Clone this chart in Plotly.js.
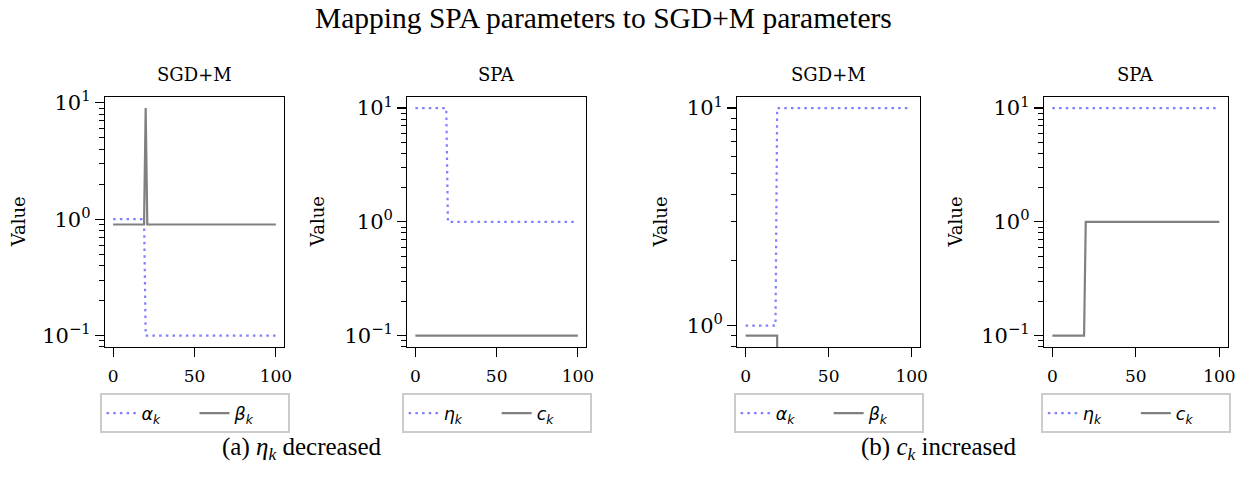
<!DOCTYPE html>
<html>
<head>
<meta charset="utf-8">
<script src="https://cdn.plot.ly/plotly-3.0.1.min.js"></script>
<style>html,body{margin:0;padding:0;background:#fff;}#chart{width:1244px;height:488px;}</style>
</head>
<body>
<div id="chart"></div>
<script>
// ---- data (vertices of the step lines) ----
// (a) eta_k decreased
const a_k_alpha = [0, 19, 20, 100];
const a_alpha   = [1, 1, 0.1, 0.1];
const a_k_beta  = [0, 19, 20, 21, 100];
const a_beta    = [0.9, 0.9, 9, 0.9, 0.9];
const a_k_eta   = [0, 19, 20, 100];
const a_eta     = [10, 10, 1, 1];
const a_k_c     = [0, 100];
const a_c       = [0.1, 0.1];
// (b) c_k increased
const b_k_alpha = [0, 18, 19, 100];
const b_alpha   = [1, 1, 10, 10];
const b_k_beta  = [0, 19, 20, 100];
const b_beta    = [0.9, 0.9, 0, 0];
const b_k_eta   = [0, 100];
const b_eta     = [10, 10];
const b_k_c     = [0, 19, 20, 100];
const b_c       = [0.1, 0.1, 1, 1];

const xTickVals = [0, 50, 100];
const yTickVals = [0.1, 1, 10];
const yTickText = ['10<sup>\u22121</sup>', '10<sup>0</sup>', '10<sup>1</sup>'];
const yMinorVals = [0.08, 0.09, 0.2, 0.3, 0.4, 0.5, 0.6, 0.7, 0.8, 0.9, 2, 3, 4, 5, 6, 7, 8, 9];

const panelTitles = ['SGD+M', 'SPA', 'SGD+M', 'SPA'];
const legendNames = [['<i>α<sub>k</sub></i>', '<i>β<sub>k</sub></i>'], ['<i>η<sub>k</sub></i>', '<i>c<sub>k</sub></i>'],
                     ['<i>α<sub>k</sub></i>', '<i>β<sub>k</sub></i>'], ['<i>η<sub>k</sub></i>', '<i>c<sub>k</sub></i>']];
const yRanges = [[-1.0977, 1.0519], [-1.1, 1.1], [-0.0981, 1.0523], [-1.1, 1.1]];

// ---- layout geometry (pixels) ----
const W = 1244, H = 488;
const px = v => v / W, py = v => 1 - v / H;
const xDom = [[105, 284], [407.3, 586], [737.3, 920], [1044, 1227.7]];
const yTop = 96.7, yBot = 347;
const valueX = [18.5, 318.3, 660.7, 955.7];

const BLUE = '#7f7fff', GREY = '#808080';
const clip = arr => arr.map(v => v > 0 ? v : 1e-10);

const series = [
  [[a_k_alpha, a_alpha], [a_k_beta, a_beta]],
  [[a_k_eta, a_eta], [a_k_c, a_c]],
  [[b_k_alpha, b_alpha], [b_k_beta, b_beta]],
  [[b_k_eta, b_eta], [b_k_c, b_c]]
];

const traces = [];
const layout = {
  width: W, height: H, margin: {l: 0, r: 0, t: 0, b: 0},
  paper_bgcolor: '#fff', plot_bgcolor: '#fff', showlegend: true,
  font: {family: 'DejaVu Serif', color: '#000'},
  annotations: [],
};

series.forEach((pair, i) => {
  const n = i + 1, sfx = n === 1 ? '' : String(n);
  const legKey = 'legend' + sfx;
  pair.forEach((s, j) => {
    traces.push({
      x: s[0], y: clip(s[1]), type: 'scatter', mode: 'lines',
      name: legendNames[i][j],
      xaxis: 'x' + sfx, yaxis: 'y' + sfx, legend: legKey,
      line: j === 0 ? {color: BLUE, width: 2.2, dash: '2.5px,4.2px'} : {color: GREY, width: 2.2},
      hoverinfo: 'skip'
    });
  });
  layout['xaxis' + sfx] = {
    domain: [px(xDom[i][0]), px(xDom[i][1])], anchor: 'y' + sfx,
    range: [-5, 105], tickvals: xTickVals, ticks: 'outside', ticklen: 9, tickwidth: 1.2,
    tickcolor: '#000', showline: true, mirror: true, linecolor: '#000', linewidth: 1.2,
    showgrid: false, zeroline: false, tickfont: {family: 'DejaVu Serif', size: 17, color: '#000'},
    ticklabelstandoff: 4, fixedrange: true
  };
  layout['yaxis' + sfx] = {
    domain: [py(yBot), py(yTop)], anchor: 'x' + sfx, type: 'log',
    range: yRanges[i], tickvals: yTickVals, ticktext: yTickText,
    ticks: 'outside', ticklen: 9, tickwidth: 1.2, tickcolor: '#000',
    minor: {tickvals: yMinorVals, ticks: 'outside', ticklen: 5, tickwidth: 1, tickcolor: '#000', showgrid: false},
    showline: true, mirror: true, linecolor: '#000', linewidth: 1.2,
    showgrid: false, zeroline: false, tickfont: {family: 'DejaVu Serif', size: 21, color: '#000'},
    ticklabelstandoff: 0, fixedrange: true
  };
  const cx = (xDom[i][0] + xDom[i][1]) / 2;
  layout[legKey] = {
    orientation: 'h', x: px(cx), xanchor: 'center', y: py(393.3), yanchor: 'top',
    bordercolor: '#cccccc', borderwidth: 2, bgcolor: '#fff',
    font: {family: 'DejaVu Sans', size: 17.5, color: '#000'},
    entrywidth: 48, itemclick: false, itemdoubleclick: false
  };
  layout.annotations.push({
    text: panelTitles[i], x: px(cx), y: py(75), xref: 'paper', yref: 'paper',
    xanchor: 'center', yanchor: 'middle', showarrow: false,
    font: {family: 'DejaVu Serif', size: 18, color: '#000'}
  });
  layout.annotations.push({
    text: 'Value', x: px(valueX[i]), y: py((yTop + yBot) / 2), xref: 'paper', yref: 'paper',
    xanchor: 'center', yanchor: 'middle', showarrow: false, textangle: -90,
    font: {family: 'DejaVu Serif', size: 18, color: '#000'}
  });
});

layout.annotations.push({
  text: 'Mapping SPA parameters to SGD+M parameters', x: px(603.5), y: py(17.5),
  xref: 'paper', yref: 'paper', xanchor: 'center', yanchor: 'middle', showarrow: false,
  font: {family: 'Liberation Serif', size: 29.5, color: '#000'}
});
layout.annotations.push({
  text: '(a) <i>η<sub>k</sub></i> decreased', x: px(301), y: py(448),
  xref: 'paper', yref: 'paper', xanchor: 'center', yanchor: 'middle', showarrow: false,
  font: {family: 'Liberation Serif', size: 25, color: '#000'}
});
layout.annotations.push({
  text: '(b) <i>c<sub>k</sub></i> increased', x: px(938.5), y: py(448),
  xref: 'paper', yref: 'paper', xanchor: 'center', yanchor: 'middle', showarrow: false,
  font: {family: 'Liberation Serif', size: 25, color: '#000'}
});

Plotly.newPlot('chart', traces, layout, {displayModeBar: false, staticPlot: true});
</script>
</body>
</html>
